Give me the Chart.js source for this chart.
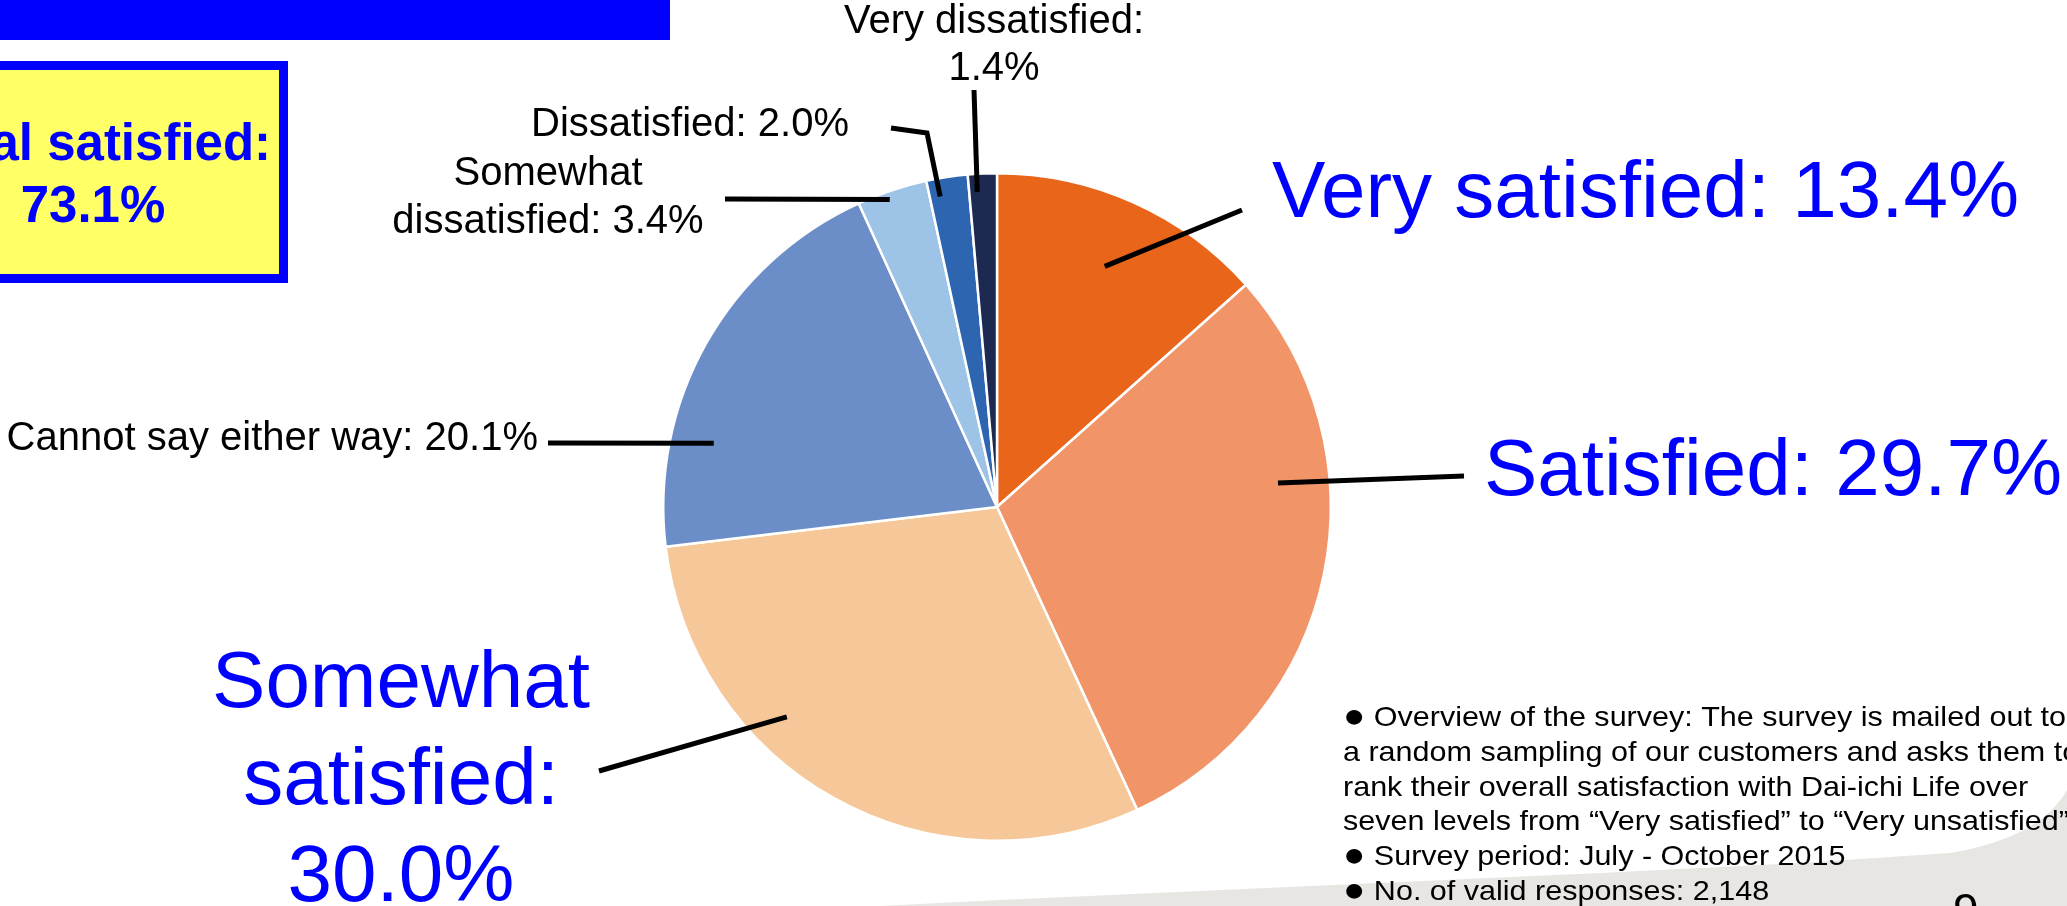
<!DOCTYPE html>
<html>
<head>
<meta charset="utf-8">
<script src="https://cdn.jsdelivr.net/npm/chart.js@4/dist/chart.umd.min.js"></script>
<style>
html,body{margin:0;padding:0;background:#fff;overflow:hidden;}
#wrap{width:2067px;height:906px;position:relative;}
</style>
</head>
<body>
<div id="wrap"><canvas id="c" width="2067" height="906"></canvas></div>
<script>
// ---- data ----
const categories = ['Very satisfied', 'Satisfied', 'Somewhat satisfied', 'Cannot say either way',
                    'Somewhat dissatisfied', 'Dissatisfied', 'Very dissatisfied'];
const shares = [13.4, 29.7, 30.0, 20.1, 3.4, 2.0, 1.4];
const satisfiedGroup = [0, 1, 2];
const totalLabel = 'Total satisfied:';
const noteLines = [
  '\u25CF Overview of the survey: The survey is mailed out to',
  'a random sampling of our customers and asks them to',
  'rank their overall satisfaction with Dai-ichi Life over',
  'seven levels from \u201CVery satisfied\u201D to \u201CVery unsatisfied\u201D',
  '\u25CF Survey period: July - October 2015',
  '\u25CF No. of valid responses: 2,148'
];
const pageNumber = '9';

// ---- styles ----
const sliceColors = ['#E8651A', '#F19467', '#F6C899', '#6B8EC8', '#9DC3E6', '#2E65B1', '#1C2A52'];
const FONT = '"Liberation Sans", Arial, Helvetica, sans-serif';
const BLUE = '#0000FF';

const fmt = v => v.toFixed(1) + '%';
const totalSatisfied = satisfiedGroup.reduce((s, i) => s + shares[i], 0);

// label specs: which slice, how to break lines, where the text sits, and leader geometry
const labelSpecs = [
  {i: 0, lines: (c, v) => [c + ': ' + v], x: 1272, y: 217, align: 'left', size: 80, color: BLUE, lh: 96,
   t: 0.50, f: 0.79, path: [[1242, 210]]},
  {i: 1, lines: (c, v) => [c + ': ' + v], x: 1484, y: 495, align: 'left', size: 80, color: BLUE, lh: 96,
   t: 0.345, f: 0.845, path: [[1464, 476]]},
  {i: 2, lines: (c, v) => { const w = c.split(' '); return [w[0], w[1] + ':', v]; }, x: 401, y: 707, align: 'center', size: 80, color: BLUE, lh: 97,
   t: 0.647, f: 0.89, path: [[599, 771]]},
  {i: 3, lines: (c, v) => [c + ': ' + v], x: 538, y: 450, align: 'right', size: 40, color: '#000', lh: 48,
   t: 0.27, f: 0.87, path: [[548, 443]]},
  {i: 4, lines: (c, v) => { const w = c.split(' '); return [w[0], w[1] + ': ' + v]; }, x: 548, y: 185, align: 'center', size: 40, color: '#000', lh: 48,
   t: 0.43, f: 0.976, path: [[725, 199]]},
  {i: 5, lines: (c, v) => [c + ': ' + v], x: 849, y: 136, align: 'right', size: 40, color: '#000', lh: 48,
   t: 0.26, f: 0.946, path: [[927, 133], [891, 128]]},
  {i: 6, lines: (c, v) => [c + ':', v], x: 994, y: 33, align: 'center', size: 40, color: '#000', lh: 47,
   t: 0.29, f: 0.946, path: [[974, 90]]}
];

const backdrop = {
  id: 'backdrop',
  beforeDraw(chart) {
    const ctx = chart.ctx;
    ctx.save();
    ctx.fillStyle = '#fff';
    ctx.fillRect(0, 0, chart.width, chart.height);
    // grey swoosh bottom right
    ctx.fillStyle = '#E8E6E2';
    ctx.beginPath();
    ctx.moveTo(880, 906);
    ctx.lineTo(1000, 900);
    ctx.lineTo(1200, 891);
    ctx.lineTo(1400, 882);
    ctx.lineTo(1600, 873);
    ctx.lineTo(1800, 863);
    ctx.lineTo(1950, 853);
    ctx.quadraticCurveTo(2040, 838, 2067, 790);
    ctx.lineTo(2067, 906);
    ctx.closePath();
    ctx.fill();
    // top blue bar
    ctx.fillStyle = BLUE;
    ctx.fillRect(0, 0, 670, 40);
    // yellow total box
    ctx.fillStyle = '#FFFF66';
    ctx.fillRect(-20, 61, 308, 222);
    ctx.strokeStyle = BLUE;
    ctx.lineWidth = 9;
    ctx.strokeRect(-20 + 4.5, 61 + 4.5, 308 - 9, 222 - 9);
    ctx.fillStyle = BLUE;
    ctx.font = 'bold 51px ' + FONT;
    ctx.textAlign = 'center';
    ctx.textBaseline = 'alphabetic';
    ctx.fillText(totalLabel, 93, 160);
    ctx.fillText(fmt(totalSatisfied), 93, 222);
    ctx.restore();
  },
  afterDraw(chart) {
    const ctx = chart.ctx;
    const arcs = chart.getDatasetMeta(0).data;
    ctx.save();
    // leader lines
    ctx.strokeStyle = '#000';
    ctx.lineWidth = 5;
    ctx.lineCap = 'butt';
    ctx.lineJoin = 'miter';
    labelSpecs.forEach(s => {
      const a = arcs[s.i];
      const ang = a.startAngle + s.t * (a.endAngle - a.startAngle);
      const r = a.outerRadius * s.f;
      const px = a.x + r * Math.cos(ang), py = a.y + r * Math.sin(ang);
      ctx.beginPath();
      ctx.moveTo(px, py);
      s.path.forEach(p => ctx.lineTo(p[0], p[1]));
      ctx.stroke();
    });
    // labels
    ctx.textBaseline = 'alphabetic';
    labelSpecs.forEach(s => {
      ctx.font = s.size + 'px ' + FONT;
      ctx.fillStyle = s.color;
      ctx.textAlign = s.align;
      s.lines(categories[s.i], fmt(shares[s.i])).forEach((ln, k) => ctx.fillText(ln, s.x, s.y + k * s.lh));
    });
    // survey notes (bullet glyph drawn larger, like the source)
    ctx.fillStyle = '#000';
    ctx.textAlign = 'left';
    noteLines.forEach((ln, k) => {
      ctx.save();
      ctx.translate(1343, 726 + k * 34.8);
      ctx.scale(1.09, 1);
      let x = 0;
      let body = ln;
      if (ln.startsWith('\u25CF')) {
        ctx.font = '34px ' + FONT;
        ctx.fillText('\u25CF', 0, 1);
        x = ctx.measureText('\u25CF').width;
        body = ln.slice(1);
      }
      ctx.font = '28px ' + FONT;
      ctx.fillText(body, x, 0);
      ctx.restore();
    });
    // page number (cut at bottom)
    ctx.font = '46px ' + FONT;
    ctx.fillText(pageNumber, 1953, 926);
    ctx.restore();
  }
};

new Chart(document.getElementById('c'), {
  type: 'pie',
  data: {
    labels: categories,
    datasets: [{
      data: shares,
      backgroundColor: sliceColors,
      borderColor: '#FFFFFF',
      borderWidth: 2.5
    }]
  },
  options: {
    responsive: false,
    animation: false,
    layout: {padding: {top: 172, bottom: 64, left: 662, right: 735}},
    plugins: {legend: {display: false}, tooltip: {enabled: false}}
  },
  plugins: [backdrop]
});
</script>
</body>
</html>
